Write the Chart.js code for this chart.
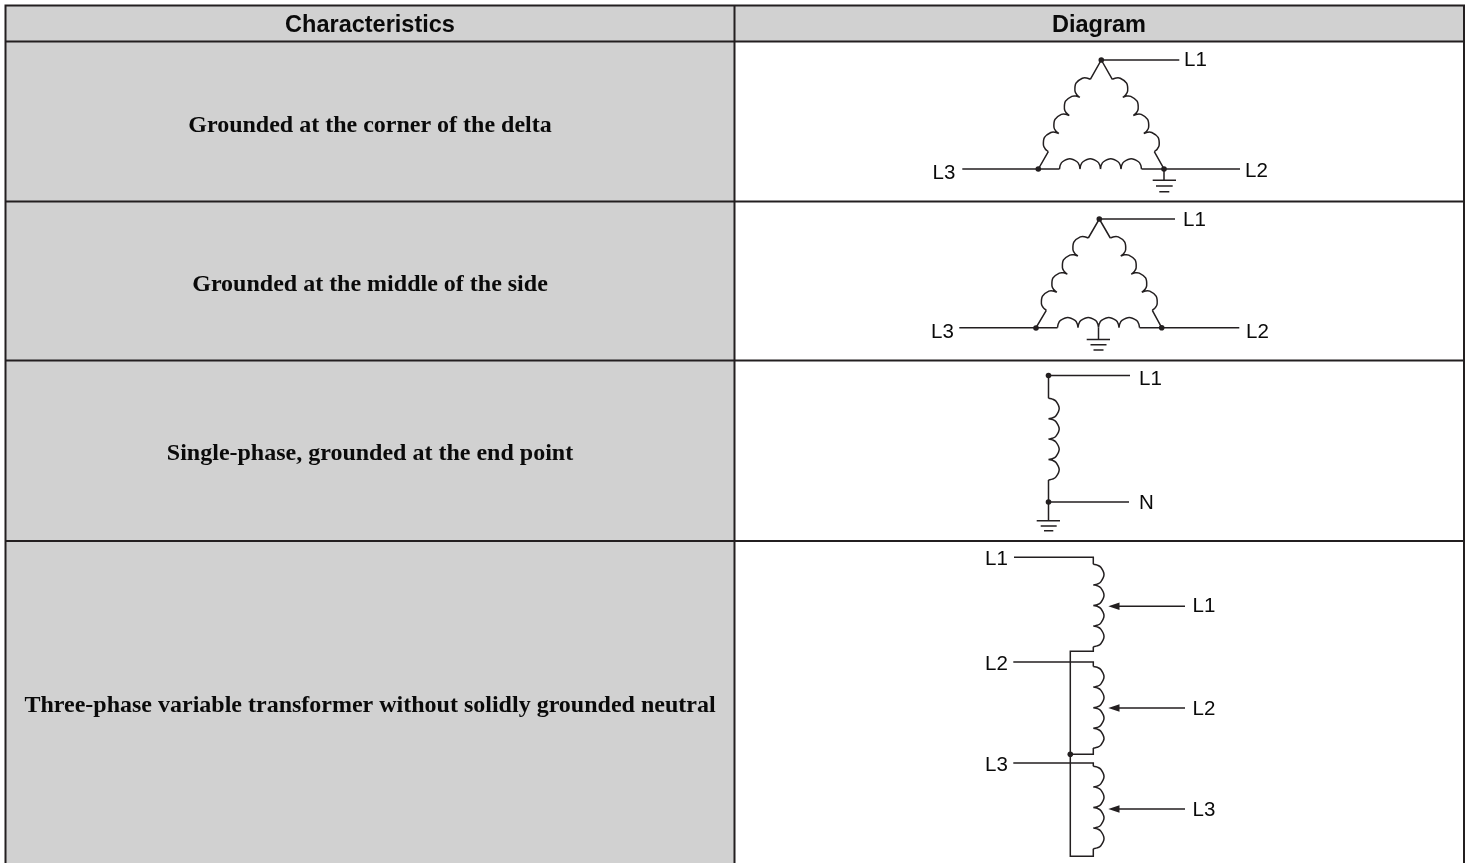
<!DOCTYPE html>
<html><head><meta charset="utf-8">
<style>html,body{margin:0;padding:0;background:#fff;overflow:hidden}canvas{display:block}</style>
<script src="https://cdn.jsdelivr.net/npm/chart.js@4"></script></head>
<body><canvas id="c" width="1470" height="863"></canvas>
<script>
// ---- table text ----
const headers = ["Characteristics", "Diagram"];
const rowTitles = [
  "Grounded at the corner of the delta",
  "Grounded at the middle of the side",
  "Single-phase, grounded at the end point",
  "Three-phase variable transformer without solidly grounded neutral"
];
const terminalNames = ["L1","L3","L2", "L1","L3","L2", "L1","N", "L1","L1","L2","L2","L3","L3"];

// ---- table geometry (x, y in the picture's units) ----
const headerShade = [[5.5,6],[1464,6],[1464,41.5],[5.5,41.5],[5.5,6]];
const columnShade = [[5.5,41.5],[734.5,41.5],[734.5,863],[5.5,863],[5.5,41.5]];
const rules = [
  [1464,863],[1464,5.5],[5.5,5.5],[5.5,863],null,
  [5.5,41.5],[1464,41.5],null,
  [5.5,201.5],[1464,201.5],null,
  [5.5,360.5],[1464,360.5],null,
  [5.5,541],[1464,541],null,
  [734.5,5.5],[734.5,863]
];

// ---- straight wires ----
const wiresDeltaCorner = [
  [1179.3,60],[1101.3,60],[1090.3,79.3],null,
  [1101.3,60],[1112.3,79.3],null,
  [1048.3,151.65],[1038.3,169],[962.3,169],null,
  [1038.3,169],[1059.5,169],null,
  [1141.5,169],[1240,169],null,
  [1154.3,151.65],[1164,169],[1164,180.3],null,
  [1152.7,180.3],[1176,180.3],null,
  [1156,186],[1172.7,186],null,
  [1159.3,191.7],[1169.3,191.7]
];
const wiresDeltaSide = [
  [1175,219],[1099.3,219],[1088.3,238],null,
  [1099.3,219],[1110.3,238],null,
  [1046.3,310.35],[1036,327.7],[959.3,327.7],null,
  [1036,327.7],[1057.5,327.7],null,
  [1139.5,327.7],[1239.3,327.7],null,
  [1152.3,310.35],[1161.7,327.7],null,
  [1098.5,327.7],[1098.5,339.5],null,
  [1086.7,339.5],[1110,339.5],null,
  [1090.5,344.8],[1106.5,344.8],null,
  [1093.5,350],[1103.5,350]
];
const wiresSingle = [
  [1130,375.5],[1048.5,375.5],[1048.5,398.3],null,
  [1048.5,479.9],[1048.5,520.7],null,
  [1048.5,502],[1129,502],null,
  [1036.7,520.7],[1060,520.7],null,
  [1040.7,526],[1056.7,526],null,
  [1044,530.7],[1053.3,530.7]
];
const wiresVariable = [
  [1014,557.3],[1093.3,557.3],[1093.3,564.3],null,
  [1093.3,646.7],[1093.3,651.3],[1070.3,651.3],[1070.3,856.3],[1093.3,856.3],[1093.3,848.7],null,
  [1013.3,662],[1093.3,662],[1093.3,666.5],null,
  [1093.3,748.1],[1093.3,754.3],[1070.3,754.3],null,
  [1013.3,763],[1093.3,763],[1093.3,766.3],null,
  [1119,606.3],[1185,606.3],null,
  [1119,708],[1185,708],null,
  [1119,809],[1185,809]
];

// ---- coil humps (each run of seven points is one turn) ----
const coilsDeltaCorner = [
  [1090.3,79.3],[1086.42,77.99],[1082.35,78.25],[1076,83.12],[1074.95,91.05],[1076.76,94.71],[1079.8,97.4],null,
  [1079.8,97.4],[1075.92,96.09],[1071.85,96.35],[1065.5,101.22],[1064.45,109.15],[1066.26,112.81],[1069.3,115.5],null,
  [1069.3,115.5],[1065.42,114.14],[1061.35,114.4],[1055,119.27],[1053.95,127.2],[1055.76,130.86],[1058.8,133.55],null,
  [1058.8,133.55],[1054.92,132.24],[1050.85,132.5],[1044.5,137.37],[1043.45,145.3],[1045.26,148.96],[1048.3,151.65],null,
  [1112.3,79.3],[1116.18,77.99],[1120.25,78.25],[1126.6,83.12],[1127.65,91.05],[1125.84,94.71],[1122.8,97.4],null,
  [1122.8,97.4],[1126.68,96.09],[1130.75,96.35],[1137.1,101.22],[1138.15,109.15],[1136.34,112.81],[1133.3,115.5],null,
  [1133.3,115.5],[1137.18,114.14],[1141.25,114.4],[1147.6,119.27],[1148.65,127.2],[1146.84,130.86],[1143.8,133.55],null,
  [1143.8,133.55],[1147.68,132.24],[1151.75,132.5],[1158.1,137.37],[1159.15,145.3],[1157.34,148.96],[1154.3,151.65],null,
  [1059.5,169],[1060.28,165.08],[1062.5,161.75],[1069.75,158.75],[1077,161.75],[1079.22,165.08],[1080,169],null,
  [1080,169],[1080.78,165.08],[1083,161.75],[1090.25,158.75],[1097.5,161.75],[1099.72,165.08],[1100.5,169],null,
  [1100.5,169],[1101.28,165.08],[1103.5,161.75],[1110.75,158.75],[1118,161.75],[1120.22,165.08],[1121,169],null,
  [1121,169],[1121.78,165.08],[1124,161.75],[1131.25,158.75],[1138.5,161.75],[1140.72,165.08],[1141.5,169]
];
const coilsDeltaSide = [
  [1088.3,238],[1084.42,236.69],[1080.35,236.95],[1074,241.82],[1072.95,249.75],[1074.76,253.41],[1077.8,256.1],null,
  [1077.8,256.1],[1073.92,254.79],[1069.85,255.05],[1063.5,259.92],[1062.45,267.85],[1064.26,271.51],[1067.3,274.2],null,
  [1067.3,274.2],[1063.42,272.84],[1059.35,273.1],[1053,277.97],[1051.95,285.9],[1053.76,289.56],[1056.8,292.25],null,
  [1056.8,292.25],[1052.92,290.94],[1048.85,291.2],[1042.5,296.07],[1041.45,304],[1043.26,307.66],[1046.3,310.35],null,
  [1110.3,238],[1114.18,236.69],[1118.25,236.95],[1124.6,241.82],[1125.65,249.75],[1123.84,253.41],[1120.8,256.1],null,
  [1120.8,256.1],[1124.68,254.79],[1128.75,255.05],[1135.1,259.92],[1136.15,267.85],[1134.34,271.51],[1131.3,274.2],null,
  [1131.3,274.2],[1135.18,272.84],[1139.25,273.1],[1145.6,277.97],[1146.65,285.9],[1144.84,289.56],[1141.8,292.25],null,
  [1141.8,292.25],[1145.68,290.94],[1149.75,291.2],[1156.1,296.07],[1157.15,304],[1155.34,307.66],[1152.3,310.35],null,
  [1057.5,327.7],[1058.28,323.78],[1060.5,320.45],[1067.75,317.45],[1075,320.45],[1077.22,323.78],[1078,327.7],null,
  [1078,327.7],[1078.78,323.78],[1081,320.45],[1088.25,317.45],[1095.5,320.45],[1097.72,323.78],[1098.5,327.7],null,
  [1098.5,327.7],[1099.28,323.78],[1101.5,320.45],[1108.75,317.45],[1116,320.45],[1118.22,323.78],[1119,327.7],null,
  [1119,327.7],[1119.78,323.78],[1122,320.45],[1129.25,317.45],[1136.5,320.45],[1138.72,323.78],[1139.5,327.7]
];
const coilsSingle = [
  [1048.5,398.3],[1052.4,399.08],[1056,401.3],[1059.2,408.5],[1056,415.7],[1052.4,417.92],[1048.5,418.7],null,
  [1048.5,418.7],[1052.4,419.48],[1056,421.7],[1059.2,428.9],[1056,436.1],[1052.4,438.32],[1048.5,439.1],null,
  [1048.5,439.1],[1052.4,439.88],[1056,442.1],[1059.2,449.3],[1056,456.5],[1052.4,458.72],[1048.5,459.5],null,
  [1048.5,459.5],[1052.4,460.28],[1056,462.5],[1059.2,469.7],[1056,476.9],[1052.4,479.12],[1048.5,479.9]
];
const coilsVariable = [
  [1093.3,564.3],[1097.2,565.08],[1100.8,567.3],[1104,574.6],[1100.8,581.9],[1097.2,584.12],[1093.3,584.9],null,
  [1093.3,584.9],[1097.2,585.68],[1100.8,587.9],[1104,595.2],[1100.8,602.5],[1097.2,604.72],[1093.3,605.5],null,
  [1093.3,605.5],[1097.2,606.28],[1100.8,608.5],[1104,615.8],[1100.8,623.1],[1097.2,625.32],[1093.3,626.1],null,
  [1093.3,626.1],[1097.2,626.88],[1100.8,629.1],[1104,636.4],[1100.8,643.7],[1097.2,645.92],[1093.3,646.7],null,
  [1093.3,666.5],[1097.2,667.28],[1100.8,669.5],[1104,676.8],[1100.8,684.1],[1097.2,686.32],[1093.3,687.1],null,
  [1093.3,687.1],[1097.2,687.88],[1100.8,690.1],[1104,697.4],[1100.8,704.7],[1097.2,706.92],[1093.3,707.7],null,
  [1093.3,707.7],[1097.2,708.48],[1100.8,710.7],[1104,718],[1100.8,725.3],[1097.2,727.52],[1093.3,728.3],null,
  [1093.3,728.3],[1097.2,729.08],[1100.8,731.3],[1104,738.6],[1100.8,745.1],[1097.2,747.32],[1093.3,748.1],null,
  [1093.3,766.3],[1097.2,767.08],[1100.8,769.3],[1104,776.6],[1100.8,783.9],[1097.2,786.12],[1093.3,786.9],null,
  [1093.3,786.9],[1097.2,787.68],[1100.8,789.9],[1104,797.2],[1100.8,804.5],[1097.2,806.72],[1093.3,807.5],null,
  [1093.3,807.5],[1097.2,808.28],[1100.8,810.5],[1104,817.8],[1100.8,825.1],[1097.2,827.32],[1093.3,828.1],null,
  [1093.3,828.1],[1097.2,828.88],[1100.8,831.1],[1104,838.4],[1100.8,845.7],[1097.2,847.92],[1093.3,848.7]
];

// ---- junction dots and arrowheads ----
const junctions = [
  [1101.3,60],[1038.3,169],[1164,169],
  [1099.3,219],[1036,328],[1161.7,327.7],
  [1048.5,375.5],[1048.5,502],
  [1070.3,754.3]
];
const arrowHeadL1 = [[1108.3,606.3],[1119.5,602.6],[1119.5,610],[1108.3,606.3]];
const arrowHeadL2 = [[1108.3,708],[1119.5,704.3],[1119.5,711.7],[1108.3,708]];
const arrowHeadL3 = [[1108.3,809],[1119.5,805.3],[1119.5,812.7],[1108.3,809]];

// ---- text anchors ----
const headerAnchors = [[370,32],[1099,32]];
const rowAnchors = [[370,132],[370,291],[370,460],[370,712]];
const terminalAnchors = [
  [1184,66],[932.5,179],[1245,177],
  [1183,225.5],[931,338],[1246,338],
  [1139,385],[1139,509],
  [985,564.5],[1192.5,611.5],[985,670],[1192.5,714.5],[985,771],[1192.5,815.5]
];

const INK = "#231f20", SHADE = "#d1d1d1";
const pts = a => a.map(p => p ? {x:p[0], y:p[1]} : {x:null, y:null});
const lineSet = (a, width, tension) => ({data:pts(a), showLine:true, borderColor:INK, borderWidth:width,
  tension:tension||0, pointRadius:0, fill:false, order:1, spanGaps:false});
const shapeSet = (a, colour, order) => ({data:pts(a), showLine:true, borderColor:colour, borderWidth:0,
  backgroundColor:colour, pointRadius:0, fill:"shape", tension:0, order:order});

const textPlugin = {
  id:"tableText",
  afterDatasetsDraw(chart){
    const {ctx, scales:{x, y}} = chart;
    const put = (t, a, font, align) => {
      ctx.font = font; ctx.textAlign = align; ctx.textBaseline = "alphabetic"; ctx.fillStyle = "#0a0a0a";
      ctx.fillText(t, x.getPixelForValue(a[0]), y.getPixelForValue(a[1]));
    };
    ctx.save();
    headers.forEach((t,i)=>put(t, headerAnchors[i], 'bold 23.5px "Liberation Sans"', "center"));
    rowTitles.forEach((t,i)=>put(t, rowAnchors[i], 'bold 24px "Liberation Serif"', "center"));
    terminalNames.forEach((t,i)=>put(t, terminalAnchors[i], '20.5px "Liberation Sans"', "left"));
    ctx.restore();
  }
};

new Chart(document.getElementById("c"), {
  type:"scatter",
  data:{datasets:[
    shapeSet(headerShade, SHADE, 9),
    shapeSet(columnShade, SHADE, 9),
    lineSet(rules, 2),
    lineSet(wiresDeltaCorner, 1.5),
    lineSet(wiresDeltaSide, 1.5),
    lineSet(wiresSingle, 1.5),
    lineSet(wiresVariable, 1.5),
    lineSet(coilsDeltaCorner, 1.5, 0.375),
    lineSet(coilsDeltaSide, 1.5, 0.375),
    lineSet(coilsSingle, 1.5, 0.375),
    lineSet(coilsVariable, 1.5, 0.375),
    shapeSet(arrowHeadL1, INK, 0),
    shapeSet(arrowHeadL2, INK, 0),
    shapeSet(arrowHeadL3, INK, 0),
    {data:pts(junctions), showLine:false, pointRadius:2.8, pointBackgroundColor:INK, pointBorderWidth:0, order:0}
  ]},
  options:{
    responsive:false, animation:false, events:[],
    layout:{padding:0, autoPadding:false},
    plugins:{legend:{display:false}, tooltip:{enabled:false}, title:{display:false}},
    scales:{
      x:{type:"linear", min:0, max:1470, display:false},
      y:{type:"linear", min:0, max:863, reverse:true, display:false}
    }
  },
  plugins:[textPlugin]
});
</script></body></html>
